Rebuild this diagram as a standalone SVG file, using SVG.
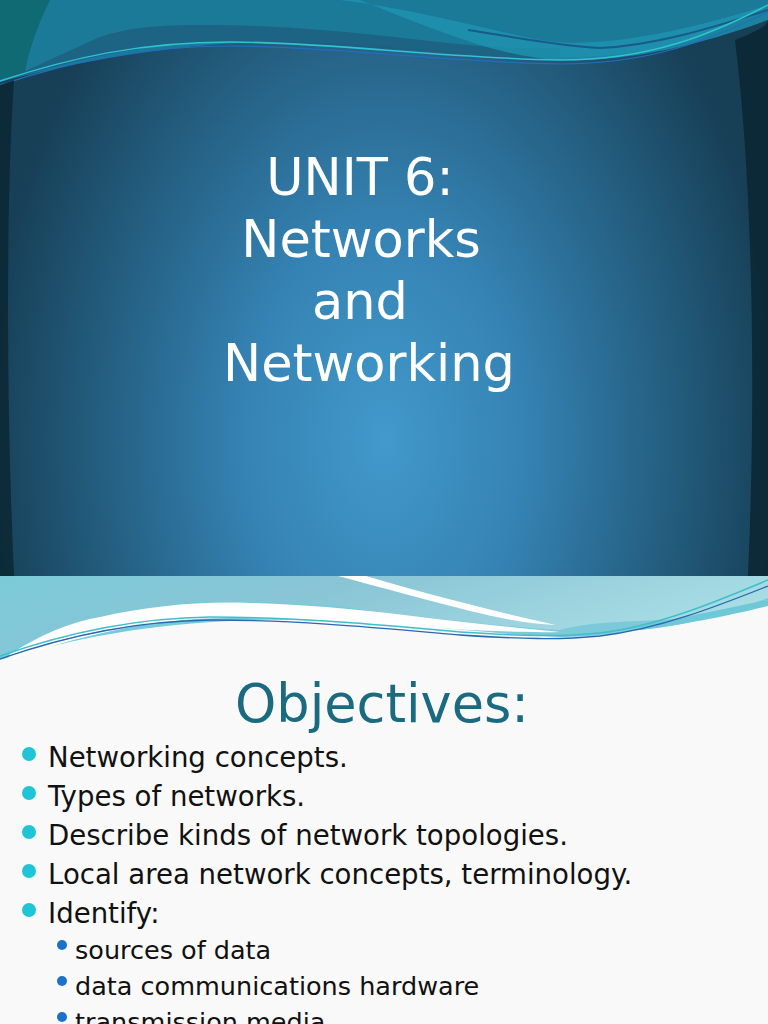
<svg xmlns="http://www.w3.org/2000/svg" width="768" height="1024" viewBox="0 0 768 1024">
<defs>
<radialGradient id="bg" cx="384" cy="440" r="400" gradientUnits="userSpaceOnUse" gradientTransform="translate(384 440) scale(1 1.5) translate(-384 -440)">
<stop offset="0" stop-color="#4299cb"/>
<stop offset="0.35" stop-color="#3583b4"/>
<stop offset="0.75" stop-color="#225a7a"/>
<stop offset="1" stop-color="#173f56"/>
</radialGradient>
<linearGradient id="wb" x1="0" y1="0" x2="1" y2="0.3">
<stop offset="0" stop-color="#7bcad8"/>
<stop offset="0.45" stop-color="#8ac5d6"/>
<stop offset="1" stop-color="#a8dde4"/>
</linearGradient>
<linearGradient id="wc" x1="0" y1="0" x2="1" y2="0">
<stop offset="0" stop-color="#72ccda"/>
<stop offset="1" stop-color="#80c8d8"/>
</linearGradient>
<style>
.t{font-family:"DejaVu Sans",sans-serif;fill:#fff;font-size:51px;text-anchor:middle}
.b{font-family:"DejaVu Sans",sans-serif;fill:#111;font-size:27.6px}
.s{font-family:"DejaVu Sans",sans-serif;fill:#111;font-size:25.5px}
.d1{fill:#1fc4d6}
.d2{fill:#1b70c8}
</style>
</defs>
<!-- top slide -->
<rect x="0" y="0" width="768" height="576" fill="url(#bg)"/>
<!-- upper wave area -->
<path d="M0 0 H768 V5 C720 30 680 50 600 56 C500 62 420 45 300 42 C200 40 90 58 0 82 Z" fill="#1a7a98"/>
<path d="M0 0 H50 C35 30 28 55 25 72 L0 80 Z" fill="#0f6a74"/>
<path d="M0 82 C40 65 70 50 100 37 C130 27 160 25 200 25 C260 25 320 28 420 40 C470 46 520 50 560 48 L560 58 C450 55 330 42 230 42 C150 42 80 58 0 82 Z" fill="#1d5f80" opacity="0.85"/>
<path d="M340 0 C420 10 480 28 540 40 C600 50 690 30 768 5 V20 C700 45 630 62 560 60 C500 58 430 28 360 0 Z" fill="#1e94b0" opacity="0.8"/>
<path d="M468 30 C520 38 560 46 600 48 C660 45 720 25 768 10" fill="none" stroke="#1a5a88" stroke-width="2"/>
<path d="M0 81 C70 58 140 42 230 42 C330 42 440 58 560 60 C650 60 710 35 768 5" fill="none" stroke="#2fc4d2" stroke-width="1.5"/>
<path d="M0 85 C70 62 140 46 230 46 C330 46 440 62 560 64 C650 64 710 40 768 12" fill="none" stroke="#1f6fc0" stroke-width="1.2"/>
<!-- dark edges -->
<path d="M735 40 C760 30 768 25 768 20 V576 H748 C755 420 755 200 735 40 Z" fill="#0a2631" opacity="0.85"/>
<path d="M0 85 L14 80 C6 200 6 400 14 576 H0 Z" fill="#0a2631" opacity="0.8"/>
<g id="title">
<text class="t" x="360" y="195">UNIT 6:</text>
<text class="t" x="361" y="257">Networks</text>
<text class="t" x="360" y="319">and</text>
<text class="t" x="369" y="381">Networking</text>
</g>
<!-- bottom slide -->
<rect x="0" y="576" width="768" height="448" fill="#f9f9f9"/>
<path d="M0 576 H768 V600 C720 615 690 625 640 630 C600 636 580 637 560 637 C480 634 420 622 300 620 C200 618 100 630 0 660 Z" fill="url(#wc)"/>
<path d="M0 576 H768 V598 C730 612 700 618 660 620 C620 622 590 622 560 630 C480 625 420 615 400 617 C360 608 330 604 300 604 C240 600 200 600 150 608 C90 618 40 635 0 655 Z" fill="url(#wb)"/>
<path d="M640 625 C700 615 740 605 768 600 V606 C730 615 700 622 640 630 Z" fill="#6ec8d8"/>
<path d="M10 654 C40 635 70 622 100 617 C150 606 200 601 250 603 C320 605 380 612 420 617 C470 623 520 628 560 632 C520 633 470 630 420 627 C360 622 300 618 230 618 C150 618 80 636 8 660 Z" fill="#fff"/>
<path d="M338 576 H366 C420 592 480 608 556 625 C520 624 480 614 420 598 C390 590 360 582 338 576 Z" fill="#fff"/>
<path d="M0 656 C60 635 130 618 210 617 C300 617 380 625 460 632 C520 636 560 637 600 633 C660 626 720 600 768 580" fill="none" stroke="#3fbfcc" stroke-width="1.5"/>
<path d="M0 659 C60 638 130 621 210 620 C300 620 380 628 460 635 C520 639 560 640 600 636 C660 629 720 605 768 586" fill="none" stroke="#2a68b0" stroke-width="1.3"/>
<text x="382" y="722" font-family="DejaVu Sans,sans-serif" font-size="52.5" fill="#1a6a80" text-anchor="middle">Objectives:</text>
<g id="bullets">
<circle class="d1" cx="29" cy="754" r="7"/>
<text class="b" x="48" y="767">Networking concepts.</text>
<circle class="d1" cx="29" cy="793" r="7"/>
<text class="b" x="48" y="806">Types of networks.</text>
<circle class="d1" cx="29" cy="832" r="7"/>
<text class="b" x="48" y="845">Describe kinds of network topologies.</text>
<circle class="d1" cx="29" cy="871" r="7"/>
<text class="b" x="48" y="884">Local area network concepts, terminology.</text>
<circle class="d1" cx="29" cy="910" r="7"/>
<text class="b" x="48" y="923">Identify:</text>
<circle class="d2" cx="62" cy="945" r="5"/>
<text class="s" x="75" y="959">sources of data</text>
<circle class="d2" cx="62" cy="981" r="5"/>
<text class="s" x="75" y="995">data communications hardware</text>
<circle class="d2" cx="62" cy="1017" r="5"/>
<text class="s" x="75" y="1031">transmission media</text>
</g>
</svg>
